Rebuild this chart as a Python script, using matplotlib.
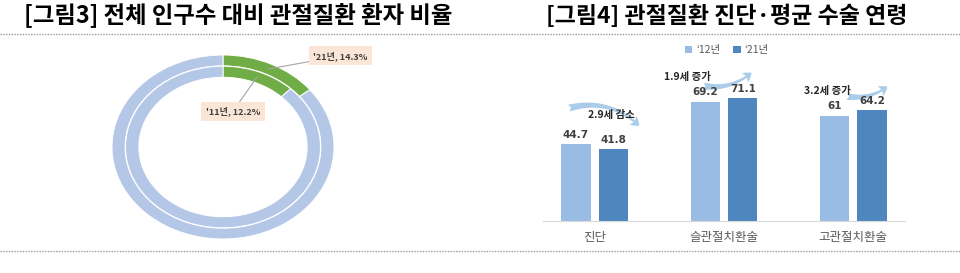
import numpy as np
import matplotlib
matplotlib.use('Agg')
import matplotlib.pyplot as plt
from matplotlib.patches import FancyArrowPatch
from matplotlib.lines import Line2D

plt.rcParams['font.family'] = ['Noto Sans CJK KR', 'DejaVu Sans']

# 데이터
title_left = '[그림3] 전체 인구수 대비 관절질환 환자 비율'
title_right = '[그림4] 관절질환 진단·평균 수술 연령'

ring_years = ["'21년", "'11년"]      # 바깥 링, 안쪽 링
ring_share = [14.3, 12.2]

categories = ['진단', '슬관절치환술', '고관절치환술']
series_names = ['‘12년', '‘21년']
age_12 = [44.7, 69.2, 61]
age_21 = [41.8, 71.1, 64.2]
change_text = ['2.9세 감소', '1.9세 증가', '3.2세 증가']

W, H = 960, 273
fig = plt.figure(figsize=(W / 100, H / 100), dpi=100)


def box(x0, y0, x1, y1):
    return [x0 / W, 1 - y1 / H, (x1 - x0) / W, (y1 - y0) / H]


# 제목, 점선
fig.text(238 / W, 1 - 16 / H, title_left, ha='center', va='center',
         fontsize=16.8, fontweight='bold', color='black')
fig.text(727 / W, 1 - 16 / H, title_right, ha='center', va='center',
         fontsize=16.5, fontweight='bold', color='black')
for yy in [34, 251]:
    fig.add_artist(Line2D([0, 1], [1 - yy / H] * 2, transform=fig.transFigure,
                          color='#9a9a9a', lw=1, linestyle=(0, (1, 1))))

# 도넛 차트
green = '#70AD47'
ring_blue = '#B4C7E7'
ax1 = fig.add_axes(box(112, 55, 334, 239))
radii = [1.0, 0.878]
widths = [0.118, 0.12]
label_pos = [(1.06, 0.99), (0.09, 0.39)]
for share, year, r, w, tpos in zip(ring_share, ring_years, radii, widths, label_pos):
    ax1.pie([share, 100 - share], radius=r, startangle=90, counterclock=False,
            colors=[green, ring_blue],
            wedgeprops=dict(width=w, edgecolor='white', linewidth=0.7))
    mid = np.deg2rad(90 - 360 * share / 100 / 2)
    rm = r - w / 2
    ax1.annotate(f'{year}, {share}%', xy=(rm * np.cos(mid), rm * np.sin(mid)),
                 xytext=tpos, ha='center', va='center', fontsize=6.5,
                 fontweight='bold', color='#404040',
                 bbox=dict(boxstyle='square,pad=0.5', fc='#FBE5D6', ec='none'),
                 arrowprops=dict(arrowstyle='-', color='#a6a6a6', lw=0.8,
                                 shrinkA=0, shrinkB=0))
ax1.set_aspect('auto')
ax1.set_xlim(-1, 1)
ax1.set_ylim(-1, 1)

# 막대 차트
light = '#98BCE3'
dark = '#4E86C0'
ax2 = fig.add_axes(box(543, 45, 905, 221))
x = np.arange(len(categories))
b1 = ax2.bar(x - 0.145, age_12, 0.225, color=light)
b2 = ax2.bar(x + 0.145, age_21, 0.225, color=dark)
for bars in [b1, b2]:
    for rect in bars:
        v = rect.get_height()
        ax2.text(rect.get_x() + rect.get_width() / 2, v + 2.5, f'{v:g}',
                 ha='center', va='bottom', fontsize=7.5, fontweight='bold',
                 color='#404040', family='DejaVu Sans')
ax2.set_xlim(-0.4, 2.4)
ax2.set_ylim(0, 102)
ax2.set_yticks([])
ax2.set_xticks(x)
ax2.set_xticklabels(categories, fontsize=9, color='#595959')
ax2.tick_params(axis='x', length=0, pad=7)
for s in ['top', 'right', 'left']:
    ax2.spines[s].set_visible(False)
ax2.spines['bottom'].set_color('#d9d9d9')

# 증감 화살표와 글자
text_xy = [(0.13, 61.5), (0.72, 83.5), (1.8, 75.5)]
arrow_from = [(-0.22, 65), (0.82, 78.5), (1.93, 72.5)]
arrow_to = [(0.36, 54), (1.23, 87), (2.28, 79)]
arrow_rad = [-0.3, 0.25, 0.25]
for t, txy, a0, a1, rad in zip(change_text, text_xy, arrow_from, arrow_to, arrow_rad):
    arr = FancyArrowPatch(a0, a1, connectionstyle=f'arc3,rad={rad}',
                          arrowstyle='fancy,head_length=6,head_width=8,tail_width=5',
                          color='#9DC3E6', alpha=0.85, lw=0, zorder=2)
    ax2.add_patch(arr)
    ax2.text(txy[0], txy[1], t, ha='center', va='center', fontsize=7.5,
             fontweight='bold', color='#262626', zorder=3)

fig.legend([b1, b2], series_names, loc='center', ncol=2,
           bbox_to_anchor=(727 / W, 1 - 50 / H), frameon=False, fontsize=7.5,
           handlelength=0.7, handleheight=0.7, columnspacing=1.2,
           handletextpad=0.4, labelcolor='#595959')

fig.savefig('out.png', dpi=100)
